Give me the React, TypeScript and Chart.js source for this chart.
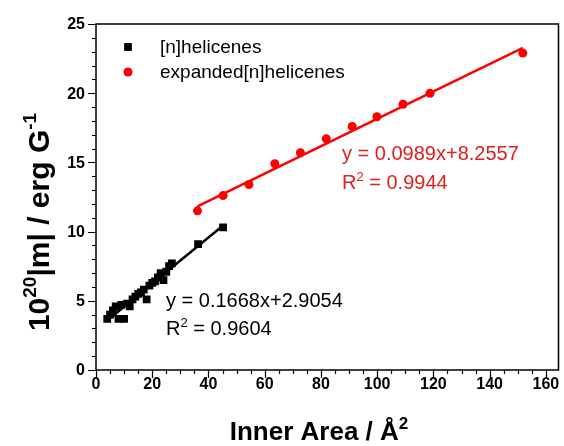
import { useEffect, useRef } from 'react';
import { Chart, registerables } from 'chart.js';

Chart.register(...registerables);

// ---- data ----
const seriesNames = ['[n]helicenes', 'expanded[n]helicenes'];

const helicenesX = [4.0, 5.0, 6.0, 7.0, 8.0, 9.0, 10.0, 11.0, 12.0, 13.0, 14.0, 15.0, 16.0, 17.0, 18.0, 19.0, 20.0, 21.0, 22.0, 23.0, 24.0, 25.0, 26.0, 27.0, 36.3, 45.2];
const helicenesY = [3.7, 4.0, 4.3, 4.6, 3.7, 4.7, 3.7, 4.8, 4.6, 5.1, 5.3, 5.5, 5.6, 5.8, 5.1, 6.1, 6.3, 6.4, 6.7, 7.0, 6.5, 7.1, 7.5, 7.7, 9.1, 10.3];

const expandedX = [36.1, 45.2, 54.4, 63.6, 72.7, 81.9, 91.1, 99.9, 109.2, 118.8, 151.8];
const expandedY = [11.5, 12.6, 13.4, 14.9, 15.7, 16.7, 17.6, 18.3, 19.2, 20.0, 22.9];

// linear fits as printed on the chart
const fitSlopes = [0.1668, 0.0989];
const fitIntercepts = [2.9054, 8.2557];
const fitR2 = ['0.9604', '0.9944'];
const fitRangesX = [[4.0, 45.2], [36.1, 151.8]];

// axes
const xRange = [0, 164.5];
const yRange = [0, 25];
const xTickLabels = [0, 20, 40, 60, 80, 100, 120, 140, 160];
const yTickLabels = [0, 5, 10, 15, 20, 25];
const xMinorStep = 5;
const yMinorStep = 1;

const FONT = '"Liberation Sans", Arial, Helvetica, sans-serif';
const RED = '#ff0000';
const RED_TEXT = '#e11f1f';

type Part = { t: string; sup?: boolean };

function richWidth(ctx: CanvasRenderingContext2D, parts: Part[], size: number, weight: string) {
  let w = 0;
  for (const p of parts) {
    ctx.font = `${weight} ${p.sup ? Math.round(size * 0.64) : size}px ${FONT}`;
    w += ctx.measureText(p.t).width;
  }
  return w;
}

function drawRich(ctx: CanvasRenderingContext2D, parts: Part[], x: number, y: number, size: number, weight: string, color: string, align: 'left' | 'center') {
  ctx.save();
  ctx.fillStyle = color;
  ctx.textBaseline = 'alphabetic';
  ctx.textAlign = 'left';
  let cx = x;
  if (align === 'center') cx = x - richWidth(ctx, parts, size, weight) / 2;
  for (const p of parts) {
    const s = p.sup ? Math.round(size * 0.64) : size;
    ctx.font = `${weight} ${s}px ${FONT}`;
    ctx.fillText(p.t, cx, p.sup ? y - size * 0.42 : y);
    cx += ctx.measureText(p.t).width;
  }
  ctx.restore();
}

const decorPlugin = {
  id: 'decor',
  afterDatasetsDraw(chart: any) {
    const ctx: CanvasRenderingContext2D = chart.ctx;
    const { left, right, top, bottom } = chart.chartArea;
    const xs = chart.scales.x;
    const ys = chart.scales.y;
    ctx.save();
    // frame
    ctx.strokeStyle = '#000';
    ctx.lineWidth = 1.5;
    ctx.strokeRect(left, top, right - left, bottom - top);

    // ticks
    ctx.lineWidth = 1.2;
    ctx.beginPath();
    for (let v = yRange[0]; v <= yRange[1] + 1e-9; v += yMinorStep) {
      const py = Math.round(ys.getPixelForValue(v)) + 0.5;
      const len = yTickLabels.includes(v) ? 8 : 4;
      ctx.moveTo(left - len, py);
      ctx.lineTo(left, py);
    }
    for (let v = xRange[0]; v <= xRange[1] + 1e-9; v += xMinorStep) {
      const px = Math.round(xs.getPixelForValue(v)) + 0.5;
      const len = xTickLabels.includes(v) ? 8 : 4;
      ctx.moveTo(px, bottom);
      ctx.lineTo(px, bottom + len);
    }
    ctx.stroke();

    // tick labels
    ctx.fillStyle = '#000';
    ctx.font = `bold 16px ${FONT}`;
    ctx.textAlign = 'right';
    ctx.textBaseline = 'middle';
    for (const v of yTickLabels) {
      ctx.fillText(String(v), left - 11, ys.getPixelForValue(v) + 1);
    }
    ctx.textAlign = 'center';
    ctx.textBaseline = 'top';
    for (const v of xTickLabels) {
      ctx.fillText(String(v), xs.getPixelForValue(v), bottom + 7);
    }

    // axis titles
    drawRich(ctx, [{ t: 'Inner Area / Å' }, { t: '2', sup: true }], 319, 440, 26, 'bold', '#000', 'center');
    ctx.save();
    ctx.translate(49, 222);
    ctx.rotate(-Math.PI / 2);
    drawRich(ctx, [{ t: '10' }, { t: '20', sup: true }, { t: '|m| / erg G' }, { t: '-1', sup: true }], 0, 0, 30, 'bold', '#000', 'center');
    ctx.restore();

    // legend (marker styles taken from the datasets)
    const legendRows = [47, 72];
    const markerX = 128;
    chart.data.datasets.slice(0, 2).forEach((ds: any, i: number) => {
      ctx.fillStyle = ds.pointBackgroundColor;
      const r = ds.pointRadius;
      if (ds.pointStyle === 'rect') {
        const h = r * Math.SQRT1_2;
        ctx.fillRect(markerX - h, legendRows[i] - h, 2 * h, 2 * h);
      } else {
        ctx.beginPath();
        ctx.arc(markerX, legendRows[i], r, 0, Math.PI * 2);
        ctx.fill();
      }
      ctx.fillStyle = '#000';
      ctx.font = `19px ${FONT}`;
      ctx.textAlign = 'left';
      ctx.textBaseline = 'middle';
      ctx.fillText(seriesNames[i], 160, legendRows[i] + 1);
    });

    // fit annotations
    drawRich(ctx, [{ t: `y = ${fitSlopes[1]}x+${fitIntercepts[1]}` }], 342, 160, 20, 'normal', RED_TEXT, 'left');
    drawRich(ctx, [{ t: 'R' }, { t: '2', sup: true }, { t: ` = ${fitR2[1]}` }], 342, 189, 20, 'normal', RED_TEXT, 'left');
    drawRich(ctx, [{ t: `y = ${fitSlopes[0]}x+${fitIntercepts[0]}` }], 166, 307, 20, 'normal', '#000', 'left');
    drawRich(ctx, [{ t: 'R' }, { t: '2', sup: true }, { t: ` = ${fitR2[0]}` }], 166, 335, 20, 'normal', '#000', 'left');
    ctx.restore();
  },
};

export default function App() {
  const ref = useRef<HTMLCanvasElement | null>(null);
  useEffect(() => {
    if (!ref.current) return;
    const fitData = (k: number) =>
      fitRangesX[k].map((x) => ({ x, y: fitSlopes[k] * x + fitIntercepts[k] }));
    const chart = new Chart(ref.current, {
      type: 'scatter',
      data: {
        datasets: [
          {
            label: seriesNames[0],
            data: helicenesX.map((x, i) => ({ x, y: helicenesY[i] })),
            pointStyle: 'rect',
            pointRadius: 5.5,
            pointBackgroundColor: '#000',
            pointBorderColor: '#000',
            pointBorderWidth: 0,
            showLine: false,
          },
          {
            label: seriesNames[1],
            data: expandedX.map((x, i) => ({ x, y: expandedY[i] })),
            pointStyle: 'circle',
            pointRadius: 4.5,
            pointBackgroundColor: RED,
            pointBorderColor: RED,
            pointBorderWidth: 0,
            showLine: false,
          },
          {
            label: 'fit0',
            type: 'line',
            data: fitData(0),
            borderColor: '#000',
            borderWidth: 2.5,
            pointRadius: 0,
            fill: false,
          },
          {
            label: 'fit1',
            type: 'line',
            data: fitData(1),
            borderColor: RED,
            borderWidth: 2.5,
            pointRadius: 0,
            fill: false,
          },
        ] as any,
      },
      options: {
        responsive: false,
        animation: false,
        layout: { padding: { top: 24, right: 5, left: 0, bottom: 0 } },
        plugins: { legend: { display: false }, tooltip: { enabled: false } },
        scales: {
          x: {
            type: 'linear',
            min: xRange[0],
            max: xRange[1],
            ticks: { display: false },
            grid: { display: false },
            border: { display: false },
            afterFit: (s: any) => { s.height = 76; },
          },
          y: {
            type: 'linear',
            min: yRange[0],
            max: yRange[1],
            ticks: { display: false },
            grid: { display: false },
            border: { display: false },
            afterFit: (s: any) => { s.width = 96; },
          },
        },
      },
      plugins: [decorPlugin],
    });
    return () => chart.destroy();
  }, []);
  return (
    <div style={{ position: 'absolute', left: 0, top: 0, width: 564, height: 446, background: '#fff' }}>
      <canvas ref={ref} width={564} height={446} />
    </div>
  );
}
